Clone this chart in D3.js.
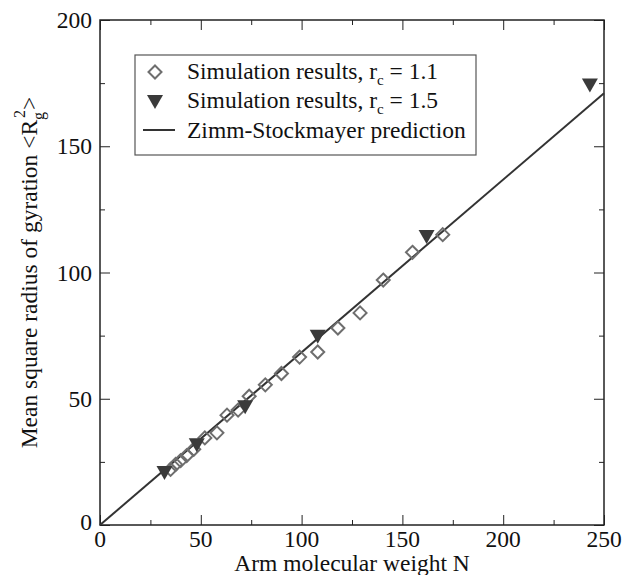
<!DOCTYPE html>
<html>
<head>
<meta charset="utf-8">
<script src="https://cdn.jsdelivr.net/npm/d3@7"></script>
<style>
  body { margin: 0; background: #fff; }
</style>
</head>
<body>
<div id="chart"></div>
<script>
// Data
const diamondN = [35, 37.5, 40, 43, 46.5, 52, 58, 63, 68.5, 74, 82, 90, 99, 108, 118, 129, 140.5, 155, 170];
const diamondR = [22, 24, 25.5, 27.5, 30, 34.5, 36.5, 43.5, 45.5, 51, 55.5, 60, 66.5, 68.5, 78, 84, 97, 108, 115];
const triangleN = [32, 48, 72, 108, 162, 243];
const triangleR = [21, 32, 47, 75, 114.5, 174.5];
const predictionN = [0, 250];
const predictionR = [0, 171];
const xTicks = [0, 50, 100, 150, 200, 250];
const yTicks = [0, 50, 100, 150, 200];

const width = 623, height = 575;
const margin = {top: 20, right: 19, bottom: 50, left: 100};
const fs = "23.5px";

const svg = d3.select("#chart").append("svg")
    .attr("width", width)
    .attr("height", height)
    .attr("font-family", "'Liberation Serif', 'Times New Roman', Times, 'DejaVu Serif', serif")
    .attr("fill", "#111");

const x = d3.scaleLinear().domain([0, 250]).range([margin.left, width - margin.right]);
const y = d3.scaleLinear().domain([0, 200]).range([height - margin.bottom, margin.top]);

const minorX = d3.range(25, 250, 50);
const minorY = d3.range(25, 200, 50);

// Ticks on all four sides, pointing inward
function axisLayer(axis, transform, ticks, size) {
    svg.append("g")
        .attr("transform", transform)
        .call(axis.tickValues(ticks).tickSize(size).tickFormat(""))
        .call(g => g.select(".domain").remove())
        .selectAll("line").attr("stroke", "#222").attr("stroke-width", 1);
}
axisLayer(d3.axisTop(x), `translate(0,${y(0)})`, xTicks, 10);
axisLayer(d3.axisTop(x), `translate(0,${y(0)})`, minorX, 5);
axisLayer(d3.axisBottom(x), `translate(0,${y(200)})`, xTicks, 10);
axisLayer(d3.axisBottom(x), `translate(0,${y(200)})`, minorX, 5);
axisLayer(d3.axisRight(y), `translate(${x(0)},0)`, yTicks, 10);
axisLayer(d3.axisRight(y), `translate(${x(0)},0)`, minorY, 5);
axisLayer(d3.axisLeft(y), `translate(${x(250)},0)`, yTicks, 10);
axisLayer(d3.axisLeft(y), `translate(${x(250)},0)`, minorY, 5);

// Frame
svg.append("rect")
    .attr("x", x(0)).attr("y", y(200))
    .attr("width", x(250) - x(0)).attr("height", y(0) - y(200))
    .attr("fill", "none").attr("stroke", "#222").attr("stroke-width", 1.5);

// Tick labels
svg.selectAll(".xlab").data(xTicks).enter().append("text")
    .attr("x", d => x(d)).attr("y", y(0) + 22)
    .attr("text-anchor", "middle").style("font-size", fs)
    .text(d => d);
svg.selectAll(".ylab").data(yTicks).enter().append("text")
    .attr("x", x(0) - 8).attr("y", d => y(d) + (d === 0 ? 5 : 8))
    .attr("text-anchor", "end").style("font-size", fs)
    .text(d => d);

// Zimm-Stockmayer line
svg.append("path")
    .datum(predictionN.map((n, i) => [n, predictionR[i]]))
    .attr("fill", "none").attr("stroke", "#333").attr("stroke-width", 2)
    .attr("d", d3.line().x(d => x(d[0])).y(d => y(d[1])));

const diamond = "M0,-6.5L6.5,0L0,6.5L-6.5,0Z";
const triangle = "M-8,-6L8,-6L0,8Z";

svg.selectAll(".dia").data(diamondN).enter().append("path")
    .attr("d", diamond)
    .attr("transform", (d, i) => `translate(${x(d)},${y(diamondR[i])})`)
    .attr("fill", "none").attr("stroke", "#6e6e6e").attr("stroke-width", 2);

svg.selectAll(".tri").data(triangleN).enter().append("path")
    .attr("d", triangle)
    .attr("transform", (d, i) => `translate(${x(d)},${y(triangleR[i])})`)
    .attr("fill", "#3a3a3a");

// Legend
const legend = svg.append("g");
legend.append("rect")
    .attr("x", 135).attr("y", 55).attr("width", 341).attr("height", 100)
    .attr("fill", "#fff").attr("stroke", "#555").attr("stroke-width", 1.2);
const rows = [72, 101, 130];
legend.append("path").attr("d", diamond).attr("transform", `translate(155,${rows[0]})`)
    .attr("fill", "none").attr("stroke", "#6e6e6e").attr("stroke-width", 2);
legend.append("path").attr("d", triangle).attr("transform", `translate(155,${rows[1]})`)
    .attr("fill", "#3a3a3a");
legend.append("line").attr("x1", 143).attr("x2", 175).attr("y1", rows[2]).attr("y2", rows[2])
    .attr("stroke", "#333").attr("stroke-width", 2);

function rcLabel(yPos, val) {
    const t = legend.append("text").attr("x", 187).attr("y", yPos + 7).style("font-size", fs);
    t.append("tspan").text("Simulation results, r");
    t.append("tspan").attr("dy", 6).style("font-size", "15px").text("c");
    t.append("tspan").attr("dy", -6).text(" = " + val);
}
rcLabel(rows[0], "1.1");
rcLabel(rows[1], "1.5");
legend.append("text").attr("x", 187).attr("y", rows[2] + 8).style("font-size", fs)
    .text("Zimm-Stockmayer prediction");

// Axis titles
svg.append("text")
    .attr("x", (x(0) + x(250)) / 2).attr("y", height - 4)
    .attr("text-anchor", "middle").style("font-size", fs)
    .text("Arm molecular weight N");

const yt = svg.append("text")
    .attr("transform", `translate(37,${(y(0) + y(200)) / 2}) rotate(-90)`)
    .attr("text-anchor", "middle").style("font-size", fs);
yt.append("tspan").text("Mean square radius of gyration <R");
yt.append("tspan").attr("dy", 7).style("font-size", "16px").text("g");
yt.append("tspan").attr("dx", -6).attr("dy", -19).style("font-size", "16px").text("2");
yt.append("tspan").attr("dy", 12).text(">");
</script>
</body>
</html>
